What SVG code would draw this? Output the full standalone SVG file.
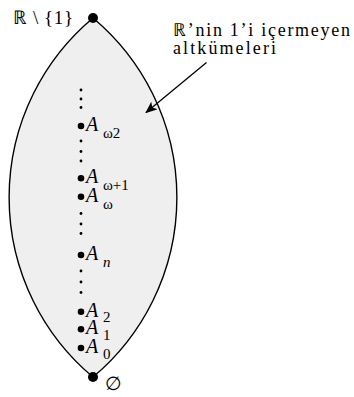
<svg xmlns="http://www.w3.org/2000/svg" width="354" height="397" viewBox="0 0 354 397">
<style>
.t{font-family:"Liberation Serif",serif;fill:#000}
.a{font-family:"Liberation Serif",serif;font-style:italic;font-size:20px;fill:#000}
.s{font-family:"Liberation Serif",serif;font-size:15px;fill:#000}
.si{font-family:"Liberation Serif",serif;font-style:italic;font-size:15px;fill:#000}
.sd{fill:#000}
</style>
<defs>
<marker id="ah" markerWidth="12" markerHeight="10" refX="11" refY="5" orient="auto" markerUnits="userSpaceOnUse">
<path d="M0,0 L12,5 L0,10 L3,5 Z" fill="#000"/>
</marker>
</defs>
<g id="lens">
<path d="M93,18 A234,234 0 0 0 93,377 A234,234 0 0 0 93,18 Z" fill="#efefef" stroke="#000" stroke-width="1.4"/>
</g>
<g id="top">
<circle cx="93" cy="18" r="5"/>
<text class="t" x="13" y="23.5" font-size="19" textLength="60" lengthAdjust="spacing">ℝ \ {1}</text>
</g>
<g id="bottom">
<circle cx="93" cy="377" r="5"/>
<text class="t" x="105" y="389.5" font-size="19">∅</text>
</g>
<g id="label">
<text class="t" x="173" y="35.5" font-size="18" textLength="177" lengthAdjust="spacing">ℝ’nin 1’i içermeyen</text>
<text class="t" x="173" y="54" font-size="18" textLength="103" lengthAdjust="spacing">altkümeleri</text>
</g>
<g id="connectors">
<line x1="206.5" y1="62.5" x2="146" y2="112.5" stroke="#000" stroke-width="1.3" marker-end="url(#ah)"/>
</g>
<g id="smalldots" class="sd">
<circle cx="81" cy="90" r="1.4"/>
<circle cx="81" cy="99" r="1.4"/>
<circle cx="81" cy="107.5" r="1.4"/>
<circle cx="81" cy="141" r="1.4"/>
<circle cx="81" cy="151.5" r="1.4"/>
<circle cx="81" cy="161" r="1.4"/>
<circle cx="81" cy="213.5" r="1.4"/>
<circle cx="81" cy="224" r="1.4"/>
<circle cx="81" cy="233.5" r="1.4"/>
<circle cx="81" cy="271" r="1.4"/>
<circle cx="81" cy="282" r="1.4"/>
<circle cx="81" cy="292.5" r="1.4"/>
</g>
<g id="A_omega2">
<circle cx="81" cy="126" r="3.3"/>
<text class="a" x="86" y="131">A</text>
<text class="s" x="103" y="138">ω2</text>
</g>
<g id="A_omega_plus_1">
<circle cx="81" cy="178.3" r="3.3"/>
<text class="a" x="86" y="183.3">A</text>
<text class="s" x="103" y="190">ω+1</text>
</g>
<g id="A_omega">
<circle cx="81" cy="196.7" r="3.3"/>
<text class="a" x="86" y="201.7">A</text>
<text class="s" x="103" y="208.5">ω</text>
</g>
<g id="A_n">
<circle cx="81" cy="255" r="3.3"/>
<text class="a" x="86" y="260">A</text>
<text class="si" x="103" y="266.5">n</text>
</g>
<g id="A_2">
<circle cx="81" cy="311.7" r="3.3"/>
<text class="a" x="86" y="316.7">A</text>
<text class="s" x="103" y="322">2</text>
</g>
<g id="A_1">
<circle cx="81" cy="329.3" r="3.3"/>
<text class="a" x="86" y="334.3">A</text>
<text class="s" x="103" y="339.5">1</text>
</g>
<g id="A_0">
<circle cx="81" cy="348" r="3.3"/>
<text class="a" x="86" y="353">A</text>
<text class="s" x="103" y="358.5">0</text>
</g>
</svg>
